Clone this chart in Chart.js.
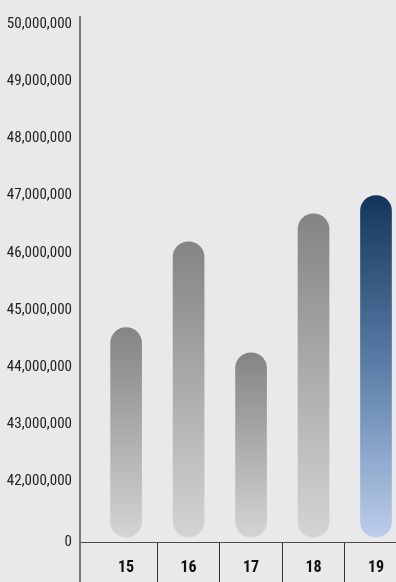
<!DOCTYPE html>
<html>
<head>
<meta charset="utf-8">
<script src="https://cdn.jsdelivr.net/npm/chart.js@4/dist/chart.umd.min.js"></script>
<style>
  html, body { margin: 0; padding: 0; background: #e9e9eb; }
  #wrap { width: 396px; height: 582px; position: relative; }
</style>
</head>
<body>
<div id="wrap"><canvas id="chart"></canvas></div>
<script>
// Years (last two digits) and totals
const years = ['15', '16', '17', '18', '19'];
const totals = [44690000, 46190000, 44250000, 46680000, 47000000];

// Value axis is cut: bottom of the axis is labelled 0, then 42M..50M
const yTicks = [42000000, 43000000, 44000000, 45000000, 46000000, 47000000, 48000000, 49000000, 50000000];
const Y_MIN = 40944000;
const Y_MAX = 50121000;
const BAR_BASE = 41030000;

const FONT = "'Liberation Sans Narrow', 'Arial Narrow', 'Roboto Condensed', 'Liberation Sans', sans-serif";

const yearValues = years.map(function(y) { return Number(y); });
const separators = yearValues.slice(0, -1).map(function(v) { return v + 0.5; });

function barGradient(ctx) {
  const chart = ctx.chart;
  if (!chart.chartArea || ctx.type !== 'data') return '#999';
  const yScale = chart.scales.y;
  const top = yScale.getPixelForValue(ctx.raw.y);
  const bottom = yScale.getPixelForValue(BAR_BASE);
  const g = chart.ctx.createLinearGradient(0, top, 0, bottom);
  if (ctx.dataIndex === years.length - 1) {
    g.addColorStop(0, '#12365b');
    g.addColorStop(0.5, '#5a7ea8');
    g.addColorStop(1, '#bccdeb');
  } else {
    g.addColorStop(0, '#838486');
    g.addColorStop(1, '#d3d4d6');
  }
  return g;
}

const ctx = document.getElementById('chart').getContext('2d');
new Chart(ctx, {
  type: 'bar',
  data: {
    datasets: [{
      data: years.map(function(y, i) { return { x: Number(y), y: totals[i] }; }),
      base: BAR_BASE,
      barThickness: 31,
      borderRadius: 16,
      borderSkipped: false,
      backgroundColor: barGradient
    }]
  },
  options: {
    responsive: true,
    maintainAspectRatio: false,
    animation: false,
    layout: { padding: { top: 12, right: 0, bottom: 0, left: 0 } },
    plugins: {
      legend: { display: false },
      tooltip: { enabled: false }
    },
    scales: {
      x: {
        type: 'linear',
        offset: false,
        min: 14.262,
        max: 19.32,
        afterBuildTicks: function(scale) {
          const vals = [scale.min].concat(yearValues, separators).sort(function(a, b) { return a - b; });
          scale.ticks = vals.map(function(v) { return { value: v }; });
        },
        afterFit: function(scale) { scale.height = 40; },
        border: { display: true, color: '#4a4a4a', width: 1 },
        grid: {
          offset: false,
          drawOnChartArea: false,
          drawTicks: true,
          tickLength: 40,
          color: function(c) {
            if (!c.tick) return 'rgba(0,0,0,0)';
            if (c.index === 0) return '#777';
            return Number.isInteger(c.tick.value) ? 'rgba(0,0,0,0)' : '#333';
          },
          lineWidth: function(c) { return c.index === 0 ? 2 : 1; }
        },
        ticks: {
          autoSkip: false,
          maxRotation: 0,
          padding: -24,
          color: '#111',
          font: { family: FONT, size: 16, weight: 'bold' },
          callback: function(value) {
            return Number.isInteger(value) ? String(value) : '';
          }
        }
      },
      y: {
        min: Y_MIN,
        max: Y_MAX,
        afterBuildTicks: function(scale) {
          scale.ticks = [Y_MIN].concat(yTicks).map(function(v) { return { value: v }; });
        },
        afterFit: function(scale) { scale.width = 80; },
        border: { display: true, color: '#777', width: 2 },
        grid: { display: false, drawTicks: false },
        ticks: {
          padding: 8,
          color: '#222',
          font: { family: FONT, size: 15 },
          callback: function(value) {
            return value === Y_MIN ? '0' : value.toLocaleString('en-US');
          }
        }
      }
    }
  }
});
</script>
</body>
</html>
